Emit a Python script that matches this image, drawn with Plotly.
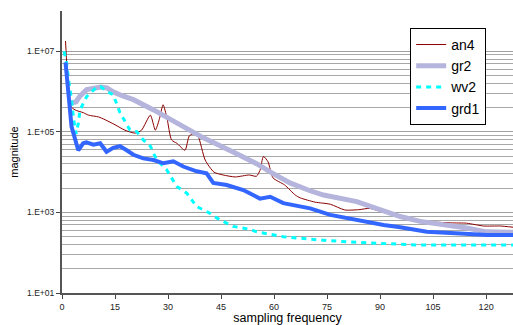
import plotly.graph_objects as go

# ---- data (x = sampling frequency, y = magnitude) ----
an4_x = [1, 1.4, 2.3, 3.7, 6, 7.5, 10.3, 12.2, 15, 17.8, 20.7, 22.5, 25, 26.4, 27.5, 28.6, 29.7,
         31, 32.5, 34.8, 36, 37.5, 38.5, 40.5, 43, 45.6, 49, 53, 55, 56, 57, 58.3, 59.7, 63, 66,
         67.4, 71.6, 75.9, 80, 84, 87, 91.4, 95.7, 98.5, 104, 110, 114.5, 119.3, 124, 127.6]
an4_y = [1.8e7, 4.0e6, 4.5e5, 3.5e5, 3.0e5, 2.6e5, 2.35e5, 2.0e5, 1.5e5, 1.1e5, 9.3e4, 1.1e5,
         2.6e5, 1.1e5, 2.0e5, 4.7e5, 2.2e5, 6.3e4, 5.2e4, 3.5e4, 7.9e4, 9.3e4, 7.9e4, 2.0e4,
         1.0e4, 8.5e3, 7.6e3, 8.5e3, 7.9e3, 1.1e4, 2.45e4, 1.8e4, 7.2e3, 4.8e3, 2.7e3, 2.3e3,
         1.8e3, 1.6e3, 1.15e3, 1.17e3, 1.26e3, 9.8e2, 7.9e2, 7.2e2, 5.9e2, 5.5e2, 5.4e2,
         4.6e2, 4.6e2, 4.3e2]

gr2_x = [2, 2.7, 4, 5, 7, 9.8, 11, 12.7, 14.5, 17, 20.2, 25.9, 30.6, 33.4, 40, 49, 55.2, 59,
         64.5, 70, 74, 83.4, 91, 95.7, 101.3, 105, 110, 114.5, 120, 127.6]
gr2_y = [5.2e5, 5.2e5, 5.6e5, 7.6e5, 1.12e6, 1.29e6, 1.29e6, 1.23e6, 9.8e5, 7.9e5, 6.3e5,
         3.5e5, 2.0e5, 1.5e5, 7.1e4, 3.0e4, 1.6e4, 1.0e4, 5.4e3, 3.5e3, 2.7e3, 1.86e3,
         1.05e3, 7.9e2, 6.0e2, 5.5e2, 4.7e2, 4.1e2, 3.3e2, 3.2e2]

wv2_x = [0.6, 1.3, 2.0, 2.7, 3.3, 4.0, 4.6, 5.1, 7, 9.8, 11, 12.7, 14.5, 16.4, 19.2, 21.1, 23,
         25, 26.8, 29.6, 32.5, 35.3, 38.1, 41.9, 44.7, 48.5, 53.2, 55.1, 62.6, 72, 81, 91,
         100.4, 110, 120, 127.6]
wv2_y = [1.0e7, 5.0e6, 1.6e6, 6.3e5, 2.0e5, 8.9e4, 1.6e5, 3.5e5, 7.6e5, 1.29e6, 1.32e6,
         1.0e6, 8.3e5, 3.0e5, 1.12e5, 1.02e5, 6.3e4, 4.4e4, 2.0e4, 1.15e4, 4.4e3, 3.0e3,
         1.4e3, 9.5e2, 6.5e2, 4.5e2, 3.8e2, 3.3e2, 2.5e2, 2.1e2, 1.86e2, 1.7e2, 1.55e2,
         1.55e2, 1.55e2, 1.55e2]

grd1_x = [1, 1.8, 2.7, 4.6, 6, 6.9, 8.9, 10.8, 12.6, 14.5, 16.4, 18.3, 20.2, 23, 25.9, 28.7,
          31.5, 34.3, 38.1, 40.9, 42.8, 46.6, 51.3, 56, 58.9, 62.6, 67.4, 70.2, 75.9, 83.4,
          91, 95.7, 101.3, 103.2, 112.7, 120.2, 127.6]
grd1_y = [5.3e6, 9.1e5, 1.35e5, 3.5e4, 5.2e4, 5.5e4, 4.8e4, 5.2e4, 3.2e4, 4.0e4, 4.4e4,
          3.5e4, 2.7e4, 2.2e4, 2.0e4, 1.66e4, 1.86e4, 1.38e4, 1.05e4, 9.3e3, 5.4e3, 4.8e3,
          3.6e3, 2.2e3, 2.45e3, 1.7e3, 1.38e3, 1.26e3, 8.7e2, 6.5e2, 4.9e2, 4.3e2, 3.6e2,
          3.3e2, 3.0e2, 2.75e2, 2.75e2]

x_ticks = [0, 15, 30, 45, 60, 75, 90, 105, 120]
y_ticks = [1e1, 1e3, 1e5, 1e7]
y_tick_text = ["1.E+01", "1.E+03", "1.E+05", "1.E+07"]

FONT = "Liberation Sans, Arial, sans-serif"

# gridlines: Excel 2-decade major unit, minor lines at k^2 multiples
grid_vals = []
for base in y_ticks:
    for k in range(2, 10):
        v = base * k * k
        if base < 1e7:
            grid_vals.append(v)
grid_vals.append(1e8)

fig = go.Figure()
fig.add_trace(go.Scatter(x=an4_x, y=an4_y, name="an4", mode="lines",
                         line=dict(color="#8B0000", width=1, shape="spline", smoothing=0.6)))
fig.add_trace(go.Scatter(x=gr2_x, y=gr2_y, name="gr2", mode="lines",
                         line=dict(color="#B4B4DC", width=5)))
fig.add_trace(go.Scatter(x=wv2_x, y=wv2_y, name="wv2", mode="lines",
                         line=dict(color="#00FFFF", width=3, dash="5px,5px")))
fig.add_trace(go.Scatter(x=grd1_x, y=grd1_y, name="grd1", mode="lines",
                         line=dict(color="#3366FF", width=4)))

fig.update_layout(
    width=513, height=325,
    margin=dict(l=62, r=0, t=11, b=32),
    paper_bgcolor="white", plot_bgcolor="white",
    font=dict(family=FONT, color="#000000"),
    showlegend=True,
    legend=dict(x=0.772, y=0.94, xanchor="left", yanchor="top",
                bgcolor="white", bordercolor="#000000", borderwidth=1,
                font=dict(size=14, family=FONT, color="#000000"),
                tracegroupgap=0),
    xaxis=dict(range=[0, 127.6], tickvals=x_ticks, ticks="outside", ticklen=4,
               tickcolor="#444444", showline=True, linecolor="#555555", linewidth=2,
               showgrid=False, zeroline=False,
               tickfont=dict(size=9, color="#222222"),
               title=dict(text="sampling frequency", font=dict(size=12.5), standoff=1)),
    yaxis=dict(type="log", range=[1, 8], tickvals=y_ticks, ticktext=y_tick_text,
               ticks="outside", ticklen=4, tickcolor="#444444",
               showline=True, linecolor="#555555", linewidth=2,
               showgrid=True, gridcolor="#A0A0A0", gridwidth=1, zeroline=False,
               minor=dict(tickvals=grid_vals, showgrid=True, gridcolor="#A8A8A8",
                          gridwidth=1, ticks=""),
               tickfont=dict(size=8.5, color="#222222"),
               title=dict(text="magnitude", font=dict(size=11), standoff=6)),
)

fig.write_html("out.html")
